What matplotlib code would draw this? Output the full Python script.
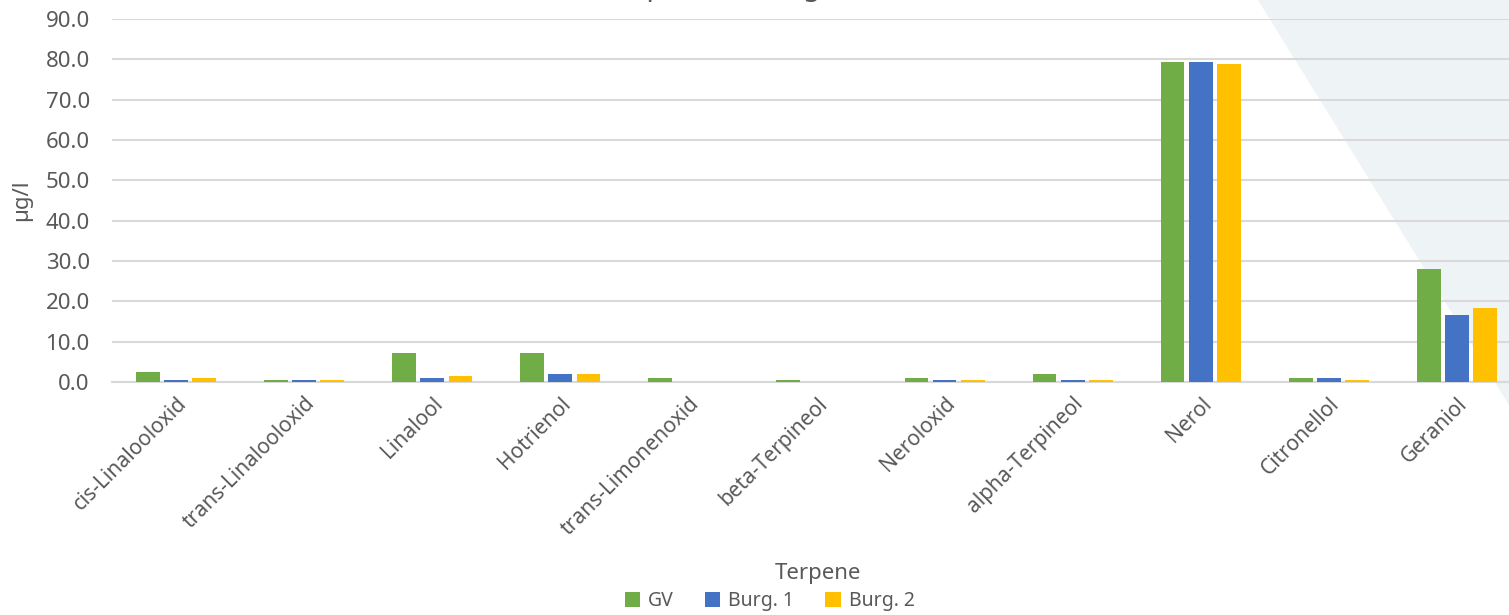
import matplotlib
matplotlib.use("Agg")
import matplotlib.pyplot as plt
from matplotlib.patches import Polygon
import numpy as np

# données (µg/l)
terpene = ["cis-Linalooloxid", "trans-Linalooloxid", "Linalool", "Hotrienol",
           "trans-Limonenoxid", "beta-Terpineol", "Neroloxid", "alpha-Terpineol",
           "Nerol", "Citronellol", "Geraniol"]
gv = [2.5, 0.5, 7.3, 7.3, 1.0, 0.5, 1.0, 2.0, 79.3, 1.0, 27.9]
burg1 = [0.5, 0.5, 1.0, 2.0, 0.0, 0.0, 0.5, 0.5, 79.3, 1.0, 16.5]
burg2 = [1.0, 0.5, 1.5, 2.0, 0.0, 0.0, 0.5, 0.5, 78.8, 0.5, 18.3]
y_ticks = [0, 10, 20, 30, 40, 50, 60, 70, 80, 90]

plt.rcParams['font.family'] = ['Noto Sans', 'DejaVu Sans']
text_col = "#595959"

fig = plt.figure(figsize=(15.09, 6.15), dpi=100)

# triangle gris-bleu en fond, en haut à droite (derrière les axes)
fig.patches.append(Polygon([(1258 / 1509, 1.0), (1.0, 1.0), (1.0, 1 - 405 / 615)],
                           closed=True, transform=fig.transFigure,
                           facecolor="#EEF3F6", edgecolor="none", zorder=-5))

# la zone de tracé dépasse un peu le bord droit, comme sur l'original
ax = fig.add_axes([112 / 1509, 1 - 382 / 615, 1409 / 1509, (382 - 19) / 615])
ax.set_zorder(1)
ax.patch.set_alpha(0)

x = np.arange(len(terpene))
w = 0.185
step = 0.22
ax.bar(x - step, gv, w, color="#70AD47", label="GV", zorder=3)
ax.bar(x, burg1, w, color="#4472C4", label="Burg. 1", zorder=3)
ax.bar(x + step, burg2, w, color="#FFC000", label="Burg. 2", zorder=3)

ax.set_xlim(-0.5, len(terpene) - 0.5)
ax.set_ylim(0, 90)
ax.set_yticks(y_ticks)
ax.set_yticklabels([f"{v:.1f}" for v in y_ticks], fontsize=16, color=text_col)
ax.yaxis.grid(True, color="#D9D9D9", linewidth=1.5, zorder=0)
ax.tick_params(axis="y", length=0, pad=16)
ax.tick_params(axis="x", length=0, pad=8)
for s in ["top", "right", "left"]:
    ax.spines[s].set_visible(False)
ax.spines["bottom"].set_color("#D9D9D9")
ax.spines["bottom"].set_linewidth(1.5)

ax.set_xticks(x)
ax.set_xticklabels(terpene, rotation=45, ha="right", rotation_mode="anchor",
                   fontsize=15, color=text_col)

ax.set_ylabel("µg/l", fontsize=16, color=text_col, labelpad=10)
fig.text(0.542, 1 - 573 / 615, "Terpene", ha="center", va="center",
         fontsize=16, color=text_col)

# titre coupé en haut de l'image (seules les jambes des lettres restent visibles)
fig.text(0.492, 1 + 12 / 615, "Terpene im Vergleich", ha="center", va="center",
         fontsize=20, color=text_col)

fig.legend(loc="center", bbox_to_anchor=(0.51, 1 - 601 / 615), ncol=3,
           frameon=False, fontsize=14, handlelength=0.8, handleheight=0.8,
           handletextpad=0.4, columnspacing=1.6, labelcolor=text_col,
           borderaxespad=0, borderpad=0)

fig.savefig("out.png", dpi=100)
